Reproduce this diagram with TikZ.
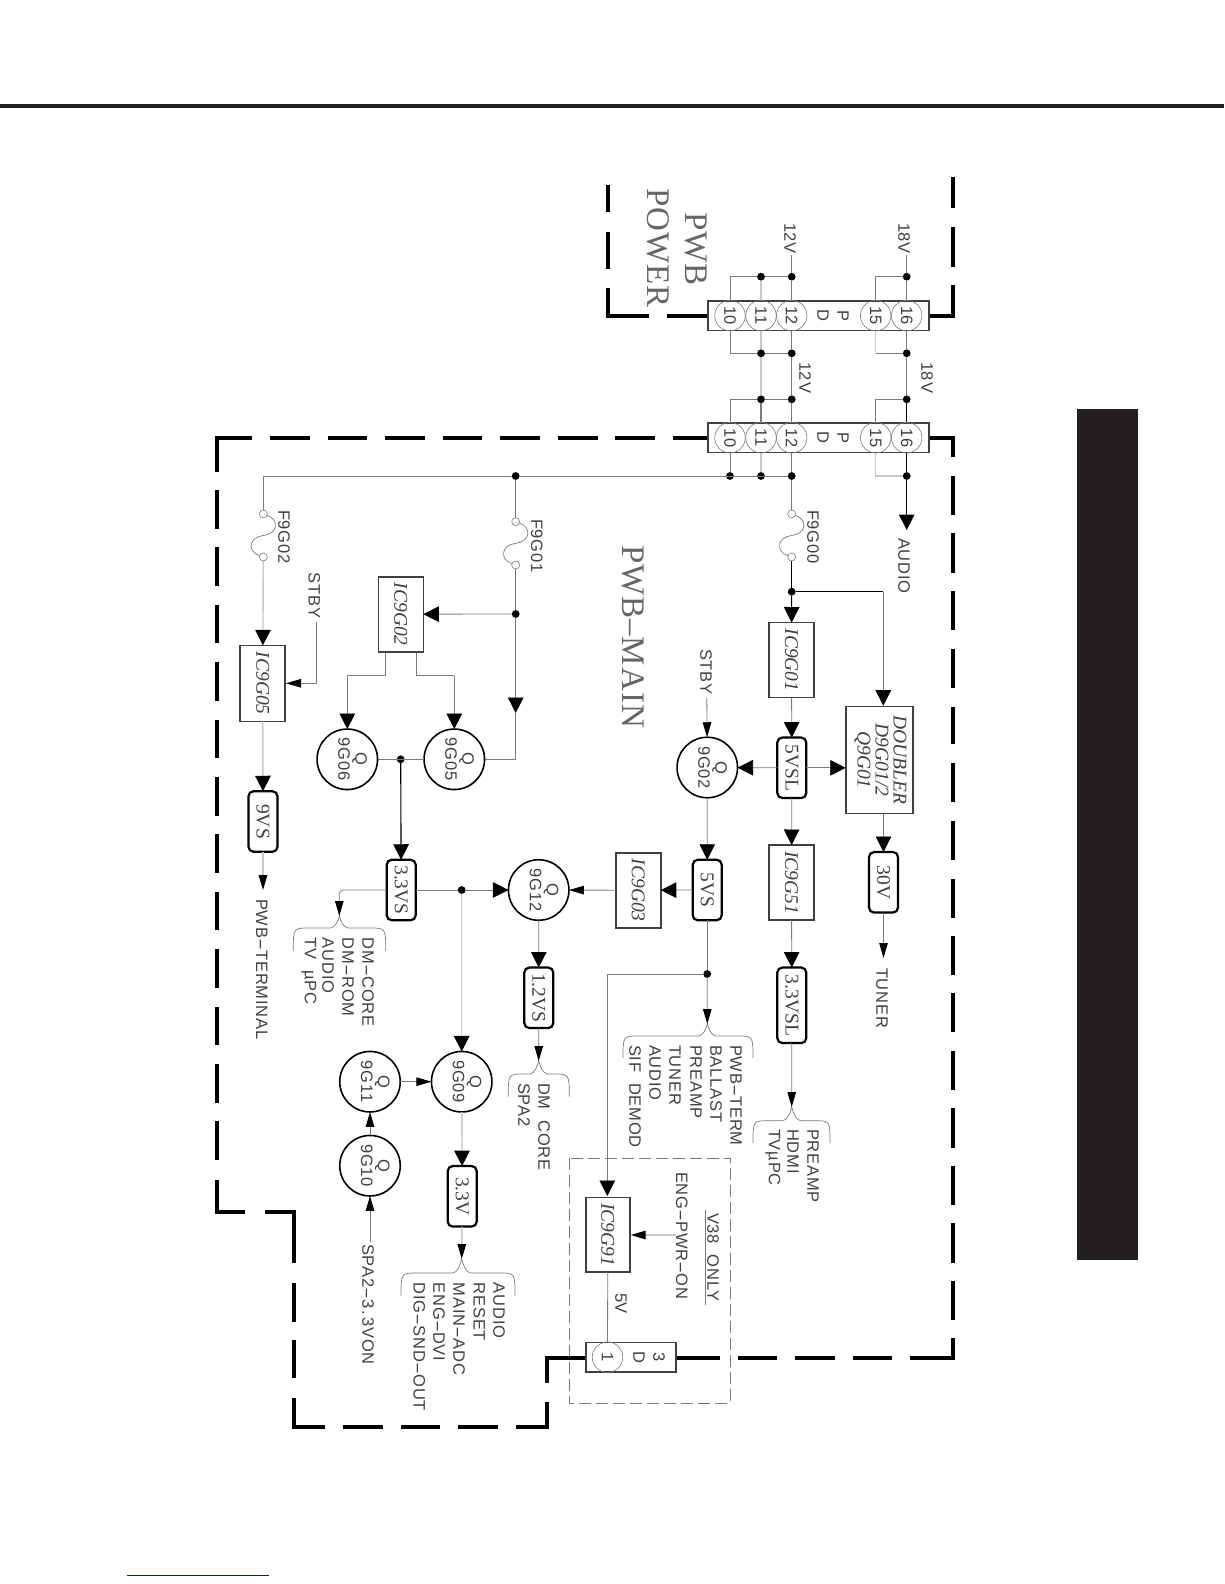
\documentclass[tikz,border=0pt]{standalone}
\usepackage{graphicx}
\usepackage{fontspec}
\usetikzlibrary{arrows.meta}
\setmainfont{Liberation Serif}
\newfontfamily\lsans[LetterSpace=5]{Liberation Sans}
\newfontfamily\bigserif[LetterSpace=3]{Liberation Serif}
\definecolor{wire}{HTML}{7A7A7A}
\definecolor{lwire}{HTML}{C8C8C8}
\definecolor{ink}{HTML}{404040}
\definecolor{sheet}{HTML}{231F20}
\definecolor{navy}{HTML}{14148A}
\newcommand\hy{\scalebox{2.2}[1]{-}}
\newcommand\rt[1]{\rotatebox[origin=c]{-90}{#1}}
\newcommand\qt[2]{\rotatebox[origin=c]{-90}{\begin{tabular}{@{}c@{}}#1\\#2\rule[-11pt]{0pt}{1pt}\end{tabular}}}
% brace: cx, cusp y, horizontal y, left x, right x, end y
\newcommand\bracket[6]{\draw[wire,line width=.7pt] (#4,#6) .. controls (#4,#3) and (#4,#3) .. (#4+16,#3) -- (#1-9,#3) .. controls (#1-4,#3) and (#1-1,#2+4) .. (#1,#2) .. controls (#1+1,#2+4) and (#1+4,#3) .. (#1+9,#3) -- (#5-16,#3) .. controls (#5,#3) and (#5,#3) .. (#5,#6);}
% fuse: name, x, y of top circle, y of bottom circle
\newcommand\fuse[4]{%
 \node[fusec] (#1a) at (#2,#3) {};
 \node[fusec] (#1b) at (#2,#4) {};
 \draw[wire,line width=.7pt] (#1a) .. controls (#2+17,#3+6) and (#2+14,#3+20) .. (#2,#3/2+#4/2) .. controls (#2-14,#4-20) and (#2-17,#4-6) .. (#1b);}
\tikzset{
 x=1pt,y=-1pt,
 every node/.style={inner sep=0pt,outer sep=0pt},
 gw/.style={wire,line width=.8pt},
 lw/.style={lwire,line width=1.4pt},
 bw/.style={black,line width=1.1pt},
 big/.style={-{Triangle[width=15.5pt,length=15.5pt,color=black]}},
 nar/.style={-{Triangle[width=8.5pt,length=15pt,color=black]}},
 bound/.style={black,line width=4pt},
 ic/.style={draw=ink,fill=white,line width=1.6pt,font=\fontsize{19.5}{17}\selectfont\itshape,text=ink},
 reg/.style={draw=black,fill=white,line width=2.2pt,rounded corners=5pt,minimum width=29pt,font=\fontsize{19.5}{17}\selectfont,text=ink},
 qc/.style={circle,draw=black,fill=white,line width=1.6pt,minimum size=60.5pt,font=\lsans\fontsize{16.5}{17}\selectfont,text=ink},
 conn/.style={draw=ink,fill=white,line width=1.6pt},
 pin/.style={circle,draw=wire,line width=.6pt,minimum size=30.5pt,font=\lsans\fontsize{16.5}{16}\selectfont,text=ink},
 dot/.style={circle,fill=black,minimum size=7.8pt},
 fusec/.style={circle,draw=wire,fill=white,line width=.6pt,minimum size=8pt},
 lab/.style={rotate=-90,anchor=west,font=\lsans\fontsize{16.5}{16}\selectfont,text=ink},
 title/.style={rotate=-90,anchor=west,font=\bigserif\fontsize{33}{33}\selectfont,text=ink!80},
}
\begin{document}
\begin{tikzpicture}
\useasboundingbox (0,0) rectangle (1224,1584);
\fill[white] (0,0) rectangle (1224,1584);
% page furniture
\fill[sheet] (0,104) rectangle (1224,107.8);
\fill[sheet] (1077,409) rectangle (1138,1260);
\fill[navy] (126.7,1574.5) rectangle (268.5,1576);

% board outlines
\draw[bound] (607.5,185)--(607.5,212) (607.5,232)--(607.5,269);
\draw[bound] (607.5,288)--(607.5,315.6)--(649,315.6) (667,315.6)--(707,315.6);
\draw[bound] (930,315.6)--(953,315.6)--(953,285) (953,267)--(953,227) (953,208)--(953,177);
\draw[bound] (953,457)--(953,437.5)--(930,437.5);
\foreach \a/\b in {476/515,533/573,591/630,649/688,707/744,763/802,821/860,879/918,936/975,993/1032,1051/1090,1108/1148,1166/1205,1223/1263,1281/1320}
  \draw[bound] (953,\a)--(953,\b);
\draw[bound] (910,1357.5)--(953,1357.5)--(953,1338);
\foreach \a/\b in {676.7/720,738/777,795/835,853/892}
  \draw[bound] (\a,1357.5)--(\b,1357.5);
\foreach \a/\b in {707/673,655/615,598/558,540/500,482/443,425/385,367/328,310/270}
  \draw[bound] (\a,437.5)--(\b,437.5);
\draw[bound] (251.7,437.5)--(216.7,437.5)--(216.7,471.7);
\foreach \a/\b in {490/529,547.4/586,604.8/643.4,662.2/700.8,719.6/758.2,777/815.6,834.4/873,891.8/930.4,949.2/987.8,1006.6/1045.2,1064/1102.6,1121.4/1160.4}
  \draw[bound] (216.7,\a)--(216.7,\b);
\draw[bound] (216.7,1180)--(216.7,1211.7)--(245,1211.7) (265,1211.7)--(294,1211.7)--(294,1263);
\draw[bound] (294,1283)--(294,1322) (294,1340)--(294,1378);
\draw[bound] (294,1398)--(294,1426.7)--(325,1426.7);
\foreach \a/\b in {343/383,401/440,458/498}
  \draw[bound] (\a,1426.7)--(\b,1426.7);
\draw[bound] (516,1426.7)--(547,1426.7)--(547,1401.7) (547,1382.7)--(547,1357.5)--(585,1357.5);
% V38 box
\draw[wire,line width=.8pt,dash pattern=on 12pt off 5pt] (569.3,1158) rectangle (730.7,1403);

% titles
\node[title] (tpwb) at (696,212) {PWB};
\node[title] (tpower) at (658,188) {POWER};
\node[title] (tmain) at (633,545) {PWB–MAIN};

% connectors
\node[conn,minimum width=221.4pt,minimum height=29.4pt] (cA) at (818.5,315.6) {};
\node[conn,minimum width=221.4pt,minimum height=29.4pt] (cB) at (818.5,437.7) {};
\node[conn,minimum width=90pt,minimum height=29.4pt] (cC) at (630.8,1357.2) {};
\foreach \p/\x in {10/730,11/761,12/791.7,15/875.7,16/906.7}{
  \node[pin] (a\p) at (\x,315.6) {\rt{\p}};
  \node[pin] (b\p) at (\x,437.7) {\rt{\p}};
}
\node[lab,anchor=center] (ap) at (843,315.6) {P};
\node[lab,anchor=center] (ad) at (823,315.6) {D};
\node[lab,anchor=center] (bp) at (843,437.7) {P};
\node[lab,anchor=center] (bd) at (823,437.7) {D};
\node[pin] (c1) at (607.5,1357.2) {\rt{1}};
\node[lab,anchor=center] (c3) at (659,1357.2) {3};
\node[lab,anchor=center] (cd) at (639,1357.2) {D};

% ICs
\node[ic,minimum width=45pt,minimum height=75pt] (ic01) at (791.5,660) {\rt{IC9G01}};
\node[ic,minimum width=45pt,minimum height=75pt] (ic51) at (791.5,882.5) {\rt{IC9G51}};
\node[ic,minimum width=45pt,minimum height=75pt] (ic03) at (638.3,890.2) {\rt{IC9G03}};
\node[ic,minimum width=45pt,minimum height=75pt] (ic02) at (400.8,614.2) {\rt{IC9G02}};
\node[ic,minimum width=45pt,minimum height=76pt] (ic05) at (262.7,683.3) {\rt{IC9G05}};
\node[ic,minimum width=44pt,minimum height=74.5pt] (ic91) at (607.8,1234.7) {\rt{IC9G91}};
\node[ic,minimum width=67.5pt,minimum height=107pt] (dbl) at (879.5,760) {\rt{\begin{tabular}{@{}c@{}}DOUBLER\\D9G01/2\\Q9G01\end{tabular}}};

% regulators
\node[reg,minimum height=60.5pt] (r5vsl) at (791.8,767.8) {\rt{5VSL}};
\node[reg,minimum height=60.5pt] (r30v) at (883.5,882.3) {\rt{30V}};
\node[reg,minimum height=75.5pt] (r33vsl) at (791.8,1005.3) {\rt{3.3VSL}};
\node[reg,minimum height=60.5pt] (r5vs) at (707.2,890) {\rt{5VS}};
\node[reg,minimum height=60.5pt] (r33vs) at (401.2,890) {\rt{3.3VS}};
\node[reg,minimum height=60.5pt] (r12vs) at (538.8,997.8) {\rt{1.2VS}};
\node[reg,minimum height=60.5pt] (r33v) at (462.2,1196.3) {\rt{3.3V}};
\node[reg,minimum height=60.5pt] (r9vs) at (263,821.5) {\rt{9VS}};

% transistors
\node[qc] (q02) at (707.3,767.5) {\qt{Q}{9G02}};
\node[qc] (q05) at (454.3,759.3) {\qt{Q}{9G05}};
\node[qc] (q06) at (347.3,759.3) {\qt{Q}{9G06}};
\node[qc] (q12) at (538.7,890) {\qt{Q}{9G12}};
\node[qc] (q09) at (461.7,1081.7) {\qt{Q}{9G09}};
\node[qc] (q11) at (370,1081.7) {\qt{Q}{9G11}};
\node[qc] (q10) at (370,1165.7) {\qt{Q}{9G10}};

% dots
\node[dot] (d18t) at (906.7,276.7) {};
\node[dot] (d12t) at (791.7,276.7) {};
\node[dot] (d11t) at (761,276.7) {};
\node[dot] (d18m) at (906.7,353.3) {};
\node[dot] (d12m) at (791.7,353.3) {};
\node[dot] (d11m) at (761,353.3) {};
\node[dot] (d18n) at (906.7,399.3) {};
\node[dot] (d12n) at (791.7,399.3) {};
\node[dot] (d11n) at (761,399.3) {};
\node[dot] (d16) at (906.7,476) {};
\node[dot] (d12) at (791.7,476) {};
\node[dot] (d11) at (761,476) {};
\node[dot] (d10) at (730,476) {};
\node[dot] (dbus) at (515.7,476) {};
\node[dot] (dsw) at (791.7,591.7) {};
\node[dot] (d01) at (515.7,614) {};
\node[dot] (dq) at (400.7,759.3) {};
\node[dot] (d33) at (461.7,890) {};
\node[dot] (d5) at (707.2,974) {};

% labels
\node[lab] (l18t) at (904,223) {18V};
\node[lab] (l12t) at (790,223) {12V};
\node[lab] (l18m) at (927,362) {18V};
\node[lab] (l12m) at (805,362) {12V};
\node[lab] (laud) at (904,538) {AUDIO};
\node[lab] (lf0) at (813,510) {F9G00};
\node[lab] (lf1) at (536.7,519) {F9G01};
\node[lab] (lf2) at (284,510) {F9G02};
\node[lab] (lst1) at (706,649) {STBY};
\node[lab] (lst2) at (314.3,572.7) {STBY};
\node[lab] (ltun) at (882,968) {TUNER};
\node[lab] (lterm) at (261.7,899) {PWB\hy TERMINAL};
\node[lab] (lspa) at (368,1244) {SPA2\hy 3\kern2pt.\kern2pt3VON};
\node[lab] (leng) at (681.7,1172) {ENG\hy PWR\hy ON};
\node[lab] (lv38) at (713,1213) {V38\ \ ONLY};
\node[lab] (l5v) at (621,1293) {5V};
\draw[wire,line width=1pt] (705.7,1210) -- (705.7,1305);

% brace texts
\foreach \x/\t in {736/PWB\hy TERM,716/BALLAST,696/PREAMP,675/TUNER,655/AUDIO,635/SIF\ \ DEMOD}
  \node[lab] at (\x,1045) {\t};
\foreach \x/\t in {813/PREAMP,793/HDMI,773/TV\textmu PC}
  \node[lab] at (\x,1129) {\t};
\foreach \x/\t in {368/DM\hy CORE,348/DM\hy ROM,328/AUDIO,309/TV\ \ \textmu PC}
  \node[lab] at (\x,937.7) {\t};
\foreach \x/\t in {544/DM\ \ CORE,524/SPA2}
  \node[lab] at (\x,1083) {\t};
\foreach \x/\t in {499/AUDIO,479.3/RESET,459/MAIN\hy ADC,439/ENG\hy DVI,419.3/DIG\hy SND\hy OUT}
  \node[lab] at (\x,1282.7) {\t};

% braces
\bracket{707.3}{1024}{1036}{623}{753}{1058}
\bracket{791.7}{1107}{1120.7}{753}{830}{1143}
\bracket{339.3}{916}{928}{293.3}{385.7}{951}
\bracket{538.7}{1061}{1074}{508.3}{569.3}{1096.7}
\bracket{461.7}{1259}{1273}{401}{515}{1295.7}
\coordinate (bk5) at (707.3,1024);
\coordinate (bk33sl) at (791.7,1107);
\coordinate (bk33s) at (339.3,916);
\coordinate (bk12) at (538.7,1061);
\coordinate (bk33) at (461.7,1259);

% free ends and corners
\coordinate (t18) at (906.7,255);
\coordinate (t12) at (791.7,255);
\coordinate (aud) at (906.7,530);
\coordinate (buscorner) at (263.3,476);
\coordinate (swcorner) at (883.3,591.7);
\coordinate (dblin) at (883.3,705.7);
\coordinate (tuner) at (883.5,958);
\coordinate (stby1) at (706.8,698);
\coordinate (q5arrow) at (515.7,713);
\coordinate (stby2) at (316.7,622.3);
\coordinate (ic5in) at (286,683.3);
\coordinate (term) at (263,890);
\coordinate (spaon) at (370,1241.7);
\coordinate (engon) at (676,1235);
\coordinate (ic91in) at (630.7,1235);
\coordinate (ic91top) at (607.3,1196);
\coordinate (ic2a) at (416.7,652.7);
\coordinate (ic2b) at (385.7,652.7);
\coordinate (ic2ac) at (454.3,675.7);
\coordinate (ic2bc) at (347.3,675.7);
\coordinate (a15c) at (875.7,353.3);

% fuses
\fuse{f0}{791.7}{514}{557}
\fuse{f1}{515.7}{521.7}{565}
\fuse{f2}{263.3}{514}{557}

% wires: connector A
\draw[gw] (t18) -- (d18t);
\draw[gw] (t12) -- (d12t);
\draw[gw] (d18t) -- (a16);
\draw[gw] (d12t) -- (a12);
\draw[lw] (d11t) -- (a11);
\draw[gw] (d12t) -- (d11t);
\draw[gw] (d18t) -| (a15);
\draw[gw] (d11t) -| (a10);
\draw[gw] (a16) -- (d18m);
\draw[gw] (a12) -- (d12m);
\draw[lw] (a11) -- (d11m);
\draw[gw] (d12m) -- (d11m);
\draw[gw] (d11m) -| (a10);
\draw[lw] (a15) -- (a15c);
\draw[gw] (a15c) -- (d18m);
% between connectors
\draw[gw] (d18m) -- (d18n);
\draw[gw] (d12m) -- (d12n);
\draw[lw] (d11m) -- (d11n);
% connector B
\draw[gw] (d12n) -- (d11n);
\draw[gw] (d11n) -| (b10);
\draw[gw] (d12n) -- (b12);
\draw[wire,line width=1.3pt] (d11n) -- (b11);
\draw[bw] (d18n) -- (b16);
\draw[gw] (d18n) -| (b15);
\draw[bw] (b16) -- (d16);
\draw[gw] (b12) -- (d12);
\draw[lw] (b11) -- (d11);
\draw[gw] (b10) -- (d10);
\draw[gw] (d12) -- (dbus);
\draw[gw] (dbus) -- (buscorner) -- (f2a);
\draw[lw] (b15) |- (d16);
\draw[bw,big] (d16) -- (aud);
% F9G00 branch
\draw[gw] (d12) -- (f0a);
\draw[bw] (f0b) -- (dsw);
\draw[bw,big] (dsw) -- (ic01);
\draw[bw] (dsw) -- (swcorner);
\draw[gw,big] (swcorner) -- (dblin);
\draw[gw,big] (ic01) -- (r5vsl);
\draw[gw,big] (r5vsl) -- (dbl.west |- r5vsl);
\draw[gw,big] (r5vsl) -- (q02);
\draw[gw,big] (r5vsl) -- (ic51);
\draw[gw,big] (ic51) -- (r33vsl);
\draw[gw,nar] (r33vsl) -- (bk33sl);
\draw[gw,big] (dbl.south -| r30v) -- (r30v);
\draw[gw,nar] (r30v) -- (tuner);
\draw[gw,nar] (stby1) -- (q02);
\draw[gw,big] (q02) -- (r5vs);
\draw[gw,big] (r5vs) -- (ic03);
\draw[gw,nar] (ic03) -- (q12);
\draw[gw] (r5vs) -- (d5);
\draw[gw,nar] (d5) -- (bk5);
\draw[gw,big] (d5) -| (ic91top);
\draw[gw,big] (q12) -- (r12vs);
\draw[gw,nar] (r12vs) -- (bk12);
% F9G01 branch
\draw[gw] (dbus) -- (f1a);
\draw[gw] (f1b) -- (d01);
\draw[gw,big] (d01) -- (ic02);
\draw[gw,big] (d01) -- (q5arrow);
\draw[gw] (q5arrow) |- (q05);
\draw[gw] (ic2a) -- (ic2a |- ic2ac) -- (ic2ac);
\draw[gw,big] (ic2ac) -- (q05);
\draw[gw] (ic2b) -- (ic2b |- ic2bc) -- (ic2bc);
\draw[gw,big] (ic2bc) -- (q06);
\draw[gw] (q06) -- (q05);
\draw[bw,big] (dq) -- (r33vs);
\draw[gw] (r33vs) -- (d33);
\draw[gw,big] (d33) -- (q12);
\draw[lw,big] (d33) -- (q09);
\draw[lw,big] (q09) -- (r33v);
\draw[lw,nar] (r33v) -- (bk33);
\draw[gw,nar] (q11) -- (q09);
\draw[gw,nar] (q10) -- (q11);
\draw[gw,nar] (spaon) -- (q10);
\draw[gw,nar,rounded corners=4pt] (r33vs) -| (bk33s);
% F9G02 branch
\draw[lw,big] (f2b) -- (ic05);
\draw[lw,big] (ic05) -- (r9vs);
\draw[lw,nar] (r9vs) -- (term);
\draw[gw,nar] (stby2) |- (ic5in);
% engine
\draw[gw] (ic91) -- (c1);
\draw[lw,nar] (engon) -- (ic91in);
\end{tikzpicture}
\end{document}
